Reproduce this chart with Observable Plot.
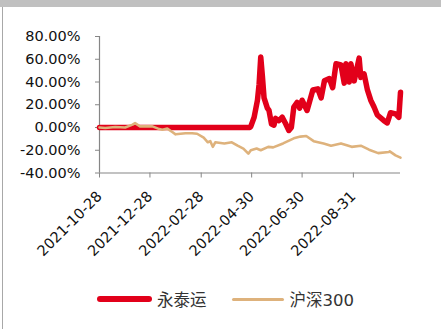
<!DOCTYPE html>
<html>
<head>
<meta charset="utf-8">
<script src="https://cdn.jsdelivr.net/npm/d3@7"></script>
<script src="https://cdn.jsdelivr.net/npm/@observablehq/plot@0.6"></script>
<style>
  html, body { margin: 0; padding: 0; background: #fff; }
  #wrap { position: relative; width: 441px; height: 329px; overflow: hidden; background: #fff;
          font-family: "DejaVu Sans", "Noto Sans CJK SC", sans-serif; }
  #topband { position: absolute; left: 0; top: 0; width: 441px; height: 7px; background: #c0c0c0; z-index: 2; }
  #leftline { position: absolute; left: 2px; top: 7px; width: 1px; height: 322px; background: #a8a8a8; z-index: 2; }
  #chart { position: absolute; left: 0; top: 0; }
  #legend { position: absolute; left: 97px; top: 287px; display: flex; align-items: center;
            font-size: 16.5px; color: #333; font-family: "DejaVu Sans", "Noto Sans CJK SC", sans-serif; }
  .sw { display: inline-block; border-radius: 3px; }
</style>
</head>
<body>
<div id="wrap">
  <div id="topband"></div>
  <div id="leftline"></div>
  <div id="chart"></div>
  <div id="legend"></div>
</div>
<script>
// ---- data (percent) ----
const seriesNames = ["永泰运", "沪深300"];
const seriesColors = ["#e2001a", "#deb27c"];

const ytyDates = ["2021-10-28","2022-04-28","2022-04-29","2022-05-03","2022-05-07","2022-05-09","2022-05-11","2022-05-13","2022-05-15","2022-05-19","2022-05-21","2022-05-24","2022-05-27","2022-05-29","2022-06-02","2022-06-06","2022-06-10","2022-06-14","2022-06-17","2022-06-20","2022-06-24","2022-06-27","2022-06-30","2022-07-06","2022-07-13","2022-07-19","2022-07-23","2022-07-27","2022-08-02","2022-08-06","2022-08-10","2022-08-16","2022-08-20","2022-08-22","2022-08-26","2022-08-28","2022-09-01","2022-09-07","2022-09-09","2022-09-13","2022-09-17","2022-09-21","2022-09-25","2022-09-29","2022-10-07","2022-10-11","2022-10-15","2022-10-21","2022-10-25","2022-10-27"];
const ytyValues = [0,0,1,9,24,38,62,45,26,17,15,3,2,8,6,9,3.5,-2.6,0,18,22,17,24,15,33,34,26,41,43,35,56,55,39,56,40,56,41,61,44,47,33,24,18,11,6,4,13,12,9,31];

const hsDates = ["2021-10-28","2021-11-04","2021-11-16","2021-11-28","2021-12-07","2021-12-10","2021-12-16","2021-12-27","2021-12-31","2022-01-07","2022-01-12","2022-01-18","2022-01-24","2022-01-28","2022-02-09","2022-02-17","2022-02-23","2022-03-03","2022-03-08","2022-03-11","2022-03-14","2022-03-17","2022-03-28","2022-04-06","2022-04-13","2022-04-20","2022-04-26","2022-04-29","2022-05-06","2022-05-11","2022-05-20","2022-05-26","2022-06-07","2022-06-20","2022-06-28","2022-07-05","2022-07-14","2022-07-26","2022-08-04","2022-08-16","2022-08-29","2022-09-09","2022-09-19","2022-09-30","2022-10-13","2022-10-14","2022-10-21","2022-10-27"];
const hsValues = [0,-0.5,0.5,0,2.5,3.8,1,1,1,-1,-2,-1,-4,-6,-5,-5,-5.5,-9,-13,-12,-17,-13,-14,-13,-16,-18.5,-23,-20,-18.5,-20,-17,-17.5,-14,-9.5,-8,-7.5,-12,-14,-16,-14,-17,-16,-19.5,-22.5,-21.5,-21,-24.5,-26.5];

const xTickLabels = ["2021-10-28","2021-12-28","2022-02-28","2022-04-30","2022-06-30","2022-08-31"];
const xDomainLabels = ["2021-10-28","2022-10-27"];
const yTicks = [-40,-20,0,20,40,60,80];

// ---- build ----
const parse = d3.utcParse("%Y-%m-%d");
const fmt = d3.utcFormat("%Y-%m-%d");
const yty = ytyDates.map((d, i) => ({date: parse(d), value: ytyValues[i]}));
const hs = hsDates.map((d, i) => ({date: parse(d), value: hsValues[i]}));
const xDomain = xDomainLabels.map(parse);
const xTicks = xTickLabels.map(parse);
const axisColor = "#868686";

const H = 275;
const chart = Plot.plot({
  width: 441,
  height: H,
  marginLeft: 99,
  marginRight: 41,
  marginTop: 36,
  marginBottom: H - 172.5,
  style: {background: "transparent", fontFamily: "DejaVu Sans, Noto Sans CJK SC, sans-serif", color: "#111"},
  x: {type: "utc", domain: xDomain},
  y: {domain: [-40, 80]},
  marks: [
    Plot.axisY({ticks: yTicks, tickFormat: d => d.toFixed(2) + "%", tickSize: 4, tickPadding: 15,
                fontSize: 14.5, stroke: axisColor, fill: "#111", label: null}),
    Plot.axisX({ticks: xTicks, tickFormat: fmt, tickRotate: -45, tickSize: 5, tickPadding: 16,
                fontSize: 14.5, stroke: axisColor, fill: "#111", label: null}),
    Plot.ruleX([xDomain[0]], {y1: -40, y2: 80, stroke: axisColor, strokeWidth: 1.2}),
    Plot.ruleY([-40], {x1: xDomain[0], x2: xDomain[1], stroke: axisColor, strokeWidth: 1.2}),
    Plot.lineY(yty, {x: "date", y: "value", stroke: seriesColors[0], strokeWidth: 5.5, strokeLinejoin: "round", strokeLinecap: "round"}),
    Plot.lineY(hs, {x: "date", y: "value", stroke: seriesColors[1], strokeWidth: 2.6, strokeLinejoin: "round"})
  ]
});
document.getElementById("chart").appendChild(chart);

// legend
const legend = document.getElementById("legend");
const swW = [55, 52], swH = [5.5, 3], gaps = [5, 6], after = [25, 0];
seriesNames.forEach((name, i) => {
  const sw = document.createElement("span");
  sw.className = "sw";
  sw.style.width = swW[i] + "px";
  sw.style.height = swH[i] + "px";
  sw.style.background = seriesColors[i];
  sw.style.marginRight = gaps[i] + "px";
  const t = document.createElement("span");
  t.textContent = name;
  t.style.marginRight = after[i] + "px";
  legend.appendChild(sw);
  legend.appendChild(t);
});
</script>
</body>
</html>
